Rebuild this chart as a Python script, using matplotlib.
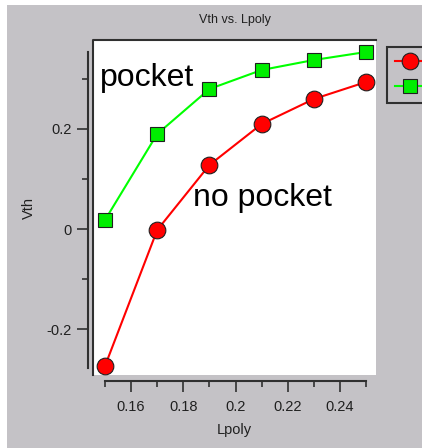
import matplotlib
matplotlib.use("Agg")
import matplotlib.pyplot as plt
from matplotlib.patches import Rectangle
from matplotlib.ticker import MultipleLocator

# data
lpoly = [0.15, 0.17, 0.19, 0.21, 0.23, 0.25]
vth_no_pocket = [-0.274, -0.002, 0.128, 0.210, 0.260, 0.294]
vth_pocket = [0.018, 0.190, 0.280, 0.318, 0.338, 0.354]

plt.rcParams['font.family'] = ['Liberation Sans', 'DejaVu Sans']

BG = '#c4c2c6'
W, H = 422, 448

fig = plt.figure(figsize=(W / 100, H / 100), dpi=100, facecolor='white')
# window background (white edge at left / top)
fig.patches.append(Rectangle((7 / W, 0), 1, 1 - 5 / H, transform=fig.transFigure,
                             facecolor=BG, edgecolor='none', zorder=-10))

ax = fig.add_axes([93 / W, 1 - 375 / H, (376 - 93) / W, (375 - 40) / H])
ax.set_facecolor('white')

l1, = ax.plot(lpoly, vth_no_pocket, '-o', color='#ff0000', lw=1.5, ms=12,
              mfc='#ff0000', mec='#202020', mew=0.8, clip_on=False, zorder=3)
l2, = ax.plot(lpoly, vth_pocket, '-s', color='#00ff00', lw=1.5, ms=10.5,
              mfc='#00ee00', mec='#202020', mew=0.8, clip_on=False, zorder=3)

ax.set_xlim(0.1454, 0.2538)
ax.set_ylim(-0.292, 0.378)

# detached axis lines
for s in ['top', 'right']:
    ax.spines[s].set_visible(False)
ax.spines['left'].set_position(('outward', 3.6))
ax.spines['left'].set_bounds(-0.278, 0.354)
ax.spines['bottom'].set_position(('outward', 4.3))
ax.spines['bottom'].set_bounds(0.15, 0.25)
for s in ['left', 'bottom']:
    ax.spines[s].set_color('#303030')
    ax.spines[s].set_linewidth(1.5)

# sunken frame of the plot area
ax.plot([0, 0, 1], [0, 1, 1], transform=ax.transAxes, color='#303030',
        lw=1.5, clip_on=False, zorder=1)

ax.xaxis.set_minor_locator(MultipleLocator(0.01))
ax.yaxis.set_minor_locator(MultipleLocator(0.1))
ax.set_xticks([0.16, 0.18, 0.20, 0.22, 0.24])
ax.set_xticklabels(['0.16', '0.18', '0.2', '0.22', '0.24'])
ax.set_yticks([-0.2, 0, 0.2])
ax.set_yticklabels(['-0.2', '0', '0.2'])
ax.tick_params(which='major', length=8, width=1.2, color='#303030',
               labelsize=10.5, labelcolor='#202020')
ax.tick_params(which='minor', length=4, width=1.2, color='#303030')
ax.tick_params(axis='y', pad=4)
ax.tick_params(axis='x', pad=6)

ax.set_xlabel('Lpoly', fontsize=10.5, color='#202020', labelpad=6)
ax.set_ylabel('Vth', fontsize=10.5, color='#202020', labelpad=7)
ax.set_title('Vth vs. Lpoly', fontsize=9, color='#202020', pad=12)

ax.text(0.148, 0.303, 'pocket', fontsize=23, ha='left', va='center', color='black')
ax.text(0.1838, 0.062, 'no pocket', fontsize=23, ha='left', va='center', color='black')

# legend, cut off at the right edge like in the reference (labels not visible)
leg = ax.legend([l1, l2], ['', ''], loc='upper left',
                bbox_to_anchor=(387 / W, 1 - 47 / H),
                bbox_transform=fig.transFigure, borderaxespad=0,
                frameon=True, fancybox=False,
                facecolor=BG, edgecolor='#303030', framealpha=1,
                fontsize=10.5, handlelength=2.0, handleheight=1.1,
                borderpad=0.55, labelspacing=0.7, handletextpad=1.5)
leg.get_frame().set_linewidth(1.5)

fig.savefig('out.png', dpi=100, facecolor=fig.get_facecolor())
